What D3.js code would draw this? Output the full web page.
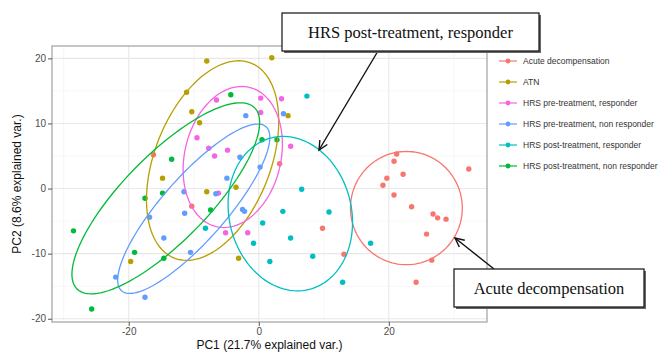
<!DOCTYPE html>
<html><head><meta charset="utf-8">
<script src="https://cdn.jsdelivr.net/npm/d3@7"></script>
<style>html,body{margin:0;padding:0;background:#fff;}svg{display:block;}</style>
</head><body>
<svg id="chart" width="670" height="354"></svg>
<script>
// ---------------- data (PC1, PC2) ----------------
const groups = ["Acute decompensation","ATN","HRS pre-treatment, responder","HRS pre-treatment, non responder","HRS post-treatment, responder","HRS post-treatment, non responder"];
const colors = ["#F8766D","#B79F00","#F564E3","#619CFF","#00BFC4","#00BA38"];

const acutePts = [[21.2,5.3],[20.8,4.2],[22.2,2.2],[19.7,1.6],[19.1,0.5],[20.8,-1.0],[23.5,-2.8],[26.8,-3.9],[27.5,-4.5],[28.8,-4.7],[25.8,-7.0],[26.6,-11.0],[24.2,-14.4],[32.3,3.0],[9.8,-6.1],[13.1,-10.1],[-16.2,5.2],[-10.3,-2.7],[3.2,3.8]];
const atnPts = [[-8.0,19.6],[2.0,20.1],[-11.1,14.8],[-10.3,11.8],[-9.1,10.1],[4.5,11.2],[-14.8,1.6],[-3.5,0.2],[-8.0,-0.5],[-19.7,-11.2],[-3.1,-10.7]];
const preRespPts = [[-6.5,13.6],[0.3,13.9],[3.5,13.8],[0.3,11.7],[-9.5,7.8],[-7.7,6.2],[-6.8,5.0],[-4.8,5.9],[4.9,6.5],[-6.2,-0.7],[-5.1,-6.8],[-1.7,-6.8]];
const preNonPts = [[-2.0,11.2],[3.8,11.5],[-2.9,4.8],[0.2,3.3],[-4.9,1.6],[-11.5,-0.5],[-6.6,-0.8],[-11.4,-3.8],[-2.5,-3.2],[-2.2,-3.5],[-10.5,-9.8],[-16.8,-4.4],[-14.6,-7.6],[-22.0,-13.6],[-17.5,-16.7]];
const postRespPts = [[7.4,14.2],[6.6,-0.1],[3.7,-3.5],[10.8,-3.6],[0.6,-5.3],[-8.2,-6.1],[-0.8,-8.4],[4.9,-7.6],[1.7,-11.2],[8.3,-10.4],[12.9,-14.4],[17.2,-8.4]];
const postNonPts = [[-4.3,14.4],[0.5,7.5],[2.8,7.5],[-13.4,4.5],[-17.5,-1.5],[-14.8,-0.7],[-7.4,-3.3],[-28.5,-6.5],[-19.1,-9.8],[-14.6,-10.7],[-25.7,-18.5]];
const groupPts = [acutePts, atnPts, preRespPts, preNonPts, postRespPts, postNonPts];

// ellipses: [centerX, centerY, semiMajor, semiMinor, angleDeg]
const ellipses = [
  [22.7,-3.0,8.7,8.6,90],
  [-7.1,4.3,16.1,8.9,68.5],
  [-4.0,4.85,11.0,7.4,76.6],
  [-10.0,-3.1,16.8,4.9,48.6],
  [4.85,-3.85,12.0,9.4,104],
  [-14.3,-1.5,19.5,6.6,45.6]
];

const xTicks = [-20,0,20];
const yTicks = [-20,-10,0,10,20];
const xMinor = [-30,-10,10,30];
const yMinor = [-15,-5,5,15];
const xTitle = "PC1 (21.7% explained var.)";
const yTitle = "PC2 (8.6% explained var.)";
const callouts = ["HRS post-treatment, responder","Acute decompensation"];

// ---------------- drawing ----------------
const svg = d3.select("#chart");
const L=52,R=487,T=46,B=322;
const x = d3.scaleLinear().domain([-31.8,35.1]).range([L,R]);
const y = d3.scaleLinear().domain([-20.5,21.9]).range([B,T]);

const grid = svg.append("g");
xMinor.forEach(v=>grid.append("line").attr("x1",x(v)).attr("x2",x(v)).attr("y1",T).attr("y2",B).attr("stroke","#f2f2f2").attr("stroke-width",0.6));
yMinor.forEach(v=>grid.append("line").attr("y1",y(v)).attr("y2",y(v)).attr("x1",L).attr("x2",R).attr("stroke","#f2f2f2").attr("stroke-width",0.6));
xTicks.forEach(v=>grid.append("line").attr("x1",x(v)).attr("x2",x(v)).attr("y1",T).attr("y2",B).attr("stroke","#e8e8e8").attr("stroke-width",1.1));
yTicks.forEach(v=>grid.append("line").attr("y1",y(v)).attr("y2",y(v)).attr("x1",L).attr("x2",R).attr("stroke","#e8e8e8").attr("stroke-width",1.1));

// points
groupPts.forEach((pts,i)=>{
  svg.append("g").selectAll("circle").data(pts).join("circle")
    .attr("cx",d=>x(d[0])).attr("cy",d=>y(d[1])).attr("r",2.7)
    .attr("fill",colors[i]);
});

// ellipses
const line = d3.line().x(d=>x(d[0])).y(d=>y(d[1])).curve(d3.curveLinearClosed);
ellipses.forEach((e,i)=>{
  const [cx,cy,a,b,ang]=e; const th=ang*Math.PI/180;
  const pts=d3.range(0,120).map(k=>{const t=k/120*2*Math.PI;
    return [cx+a*Math.cos(th)*Math.cos(t)-b*Math.sin(th)*Math.sin(t), cy+a*Math.sin(th)*Math.cos(t)+b*Math.cos(th)*Math.sin(t)];});
  svg.append("path").attr("d",line(pts)).attr("fill","none").attr("stroke",colors[i]).attr("stroke-width",1.3);
});

// panel border
svg.append("rect").attr("x",L).attr("y",T).attr("width",R-L).attr("height",B-T).attr("fill","none").attr("stroke","#a0a0a0").attr("stroke-width",1.2);

// axes
const ax = svg.append("g").attr("transform",`translate(0,${B})`).call(d3.axisBottom(x).tickValues(xTicks).tickSize(4).tickPadding(2).tickFormat(d=>d));
const ay = svg.append("g").attr("transform",`translate(${L},0)`).call(d3.axisLeft(y).tickValues(yTicks).tickSize(4).tickPadding(2).tickFormat(d=>d));
[ax,ay].forEach(g=>{g.select(".domain").remove();
  g.selectAll(".tick line").attr("stroke","#555");
  g.selectAll("text").attr("fill","#4d4d4d").style("font-family","Liberation Sans, Arial, sans-serif").style("font-size","10px");});

svg.append("text").attr("x",(L+R)/2).attr("y",349).attr("text-anchor","middle")
  .style("font-family","Liberation Sans, Arial, sans-serif").style("font-size","12px").attr("fill","#111").text(xTitle);
svg.append("text").attr("transform",`translate(21,${(T+B)/2}) rotate(-90)`).attr("text-anchor","middle")
  .style("font-family","Liberation Sans, Arial, sans-serif").style("font-size","12px").attr("fill","#111").text(yTitle);

// legend
const lg = svg.append("g");
groups.forEach((g,i)=>{
  const yy = 61 + i*21;
  lg.append("line").attr("x1",499).attr("x2",517).attr("y1",yy).attr("y2",yy).attr("stroke",colors[i]).attr("stroke-width",1.2);
  lg.append("circle").attr("cx",508).attr("cy",yy).attr("r",2.4).attr("fill",colors[i]);
  lg.append("text").attr("x",523).attr("y",yy+3).style("font-family","Liberation Sans, Arial, sans-serif").style("font-size","8.5px").attr("fill","#333").text(g);
});

// callouts
function box(bx,by,bw,bh,txt){
  svg.append("rect").attr("x",bx+2).attr("y",by+2).attr("width",bw).attr("height",bh).attr("fill","#666");
  svg.append("rect").attr("x",bx).attr("y",by).attr("width",bw).attr("height",bh).attr("fill","#fff").attr("stroke","#111").attr("stroke-width",1.2);
  svg.append("text").attr("x",bx+bw/2).attr("y",by+bh/2+5.5).attr("text-anchor","middle")
    .style("font-family","Liberation Serif, Times New Roman, serif").style("font-size","16.5px").attr("fill","#111").text(txt);
}
function arrow(x1,y1,x2,y2){
  svg.append("line").attr("x1",x1).attr("y1",y1).attr("x2",x2).attr("y2",y2).attr("stroke","#111").attr("stroke-width",1.4);
  const ang=Math.atan2(y2-y1,x2-x1), hl=10, ha=0.45;
  const p1=[x2-hl*Math.cos(ang-ha), y2-hl*Math.sin(ang-ha)], p2=[x2-hl*Math.cos(ang+ha), y2-hl*Math.sin(ang+ha)];
  svg.append("path").attr("d",`M${p1}L${x2},${y2}L${p2}`).attr("fill","none").attr("stroke","#111").attr("stroke-width",1.4);
}
arrow(378,51,319,150);
arrow(494,269,455,238);
box(282,13,257,38,callouts[0]);
box(454,269,190,38,callouts[1]);
</script>
</body></html>
